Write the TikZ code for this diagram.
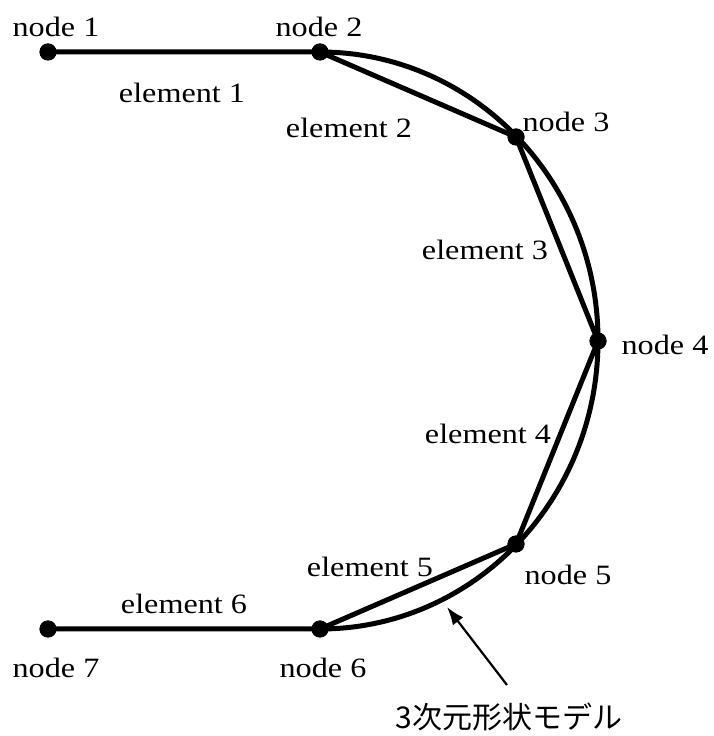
\documentclass[tikz,border=0pt]{standalone}
\usepackage{fontspec}
\setmainfont{Liberation Serif}[FakeStretch=1.15]
\newfontfamily\cjk{Noto Sans CJK JP}
\usetikzlibrary{arrows.meta}
\begin{document}
\begin{tikzpicture}[x=1pt,y=1pt,
  member/.style={line width=5pt},
  dot/.style={circle,fill=black,inner sep=0pt,minimum size=17pt},
  lbl/.style={inner sep=0pt,font=\fontsize{28}{32}\selectfont},
  pointer/.style={line width=2.2pt,-{Latex[length=18pt,width=13pt]}}]
\useasboundingbox (0,0) rectangle (714,736);
% nodes
\node[dot] (n1) at (48,684) {};
\node[dot] (n2) at (320,684) {};
\node[dot] (n3) at (516,599) {};
\node[dot] (n4) at (598,395) {};
\node[dot] (n5) at (516,192) {};
\node[dot] (n6) at (320,107) {};
\node[dot] (n7) at (48,107) {};
% shape model arc
\draw[member] (n2.center) arc[start angle=90,end angle=-90,x radius=278,y radius=288.5];
% elements
\draw[member] (n1.center) -- (n2.center) -- (n3.center) -- (n4.center) -- (n5.center) -- (n6.center) -- (n7.center);
% redraw dots on top
\foreach \p in {n1,n2,n3,n4,n5,n6,n7} \fill (\p.center) circle (8.5pt);
% labels
\node[lbl] (t1) at (56,709) {node 1};
\node[lbl] (t2) at (319,709) {node 2};
\node[lbl] (t3) at (566,614) {node 3};
\node[lbl] (t4) at (665,391) {node 4};
\node[lbl] (t5) at (568,161) {node 5};
\node[lbl] (t6) at (323,68) {node 6};
\node[lbl] (t7) at (56,68) {node 7};
\node[lbl] (e1) at (182,643) {element 1};
\node[lbl] (e2) at (349,608) {element 2};
\node[lbl] (e3) at (485,486) {element 3};
\node[lbl] (e4) at (488,302) {element 4};
\node[lbl] (e5) at (370,169) {element 5};
\node[lbl] (e6) at (184,132) {element 6};
\node[inner sep=0pt,font=\cjk\fontsize{30}{33}\selectfont] (m) at (509,19) {3次元形状モデル};
\coordinate (tail) at (507,51);
\coordinate (tip) at (447,129);
\draw[pointer] (tail) -- (tip);
\end{tikzpicture}
\end{document}
